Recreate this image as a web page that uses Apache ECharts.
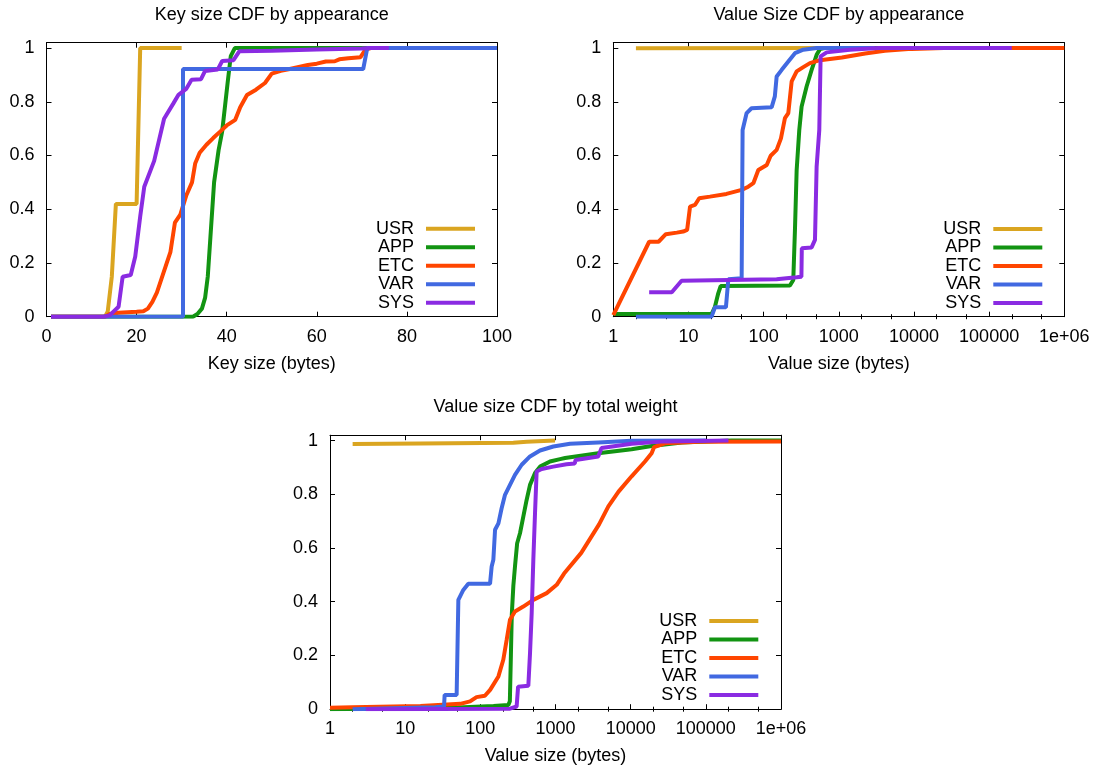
<!DOCTYPE html>
<html><head><meta charset="utf-8">
<script src="https://cdn.jsdelivr.net/npm/echarts@6/dist/echarts.min.js"></script>
<style>html,body{margin:0;padding:0;background:#fff}#c{width:1097px;height:772px}</style>
</head><body><div id="c"></div>
<script>
// ---------------- data ----------------
const seriesNames = ['USR', 'APP', 'ETC', 'VAR', 'SYS'];
const titles = ['Key size CDF by appearance', 'Value Size CDF by appearance', 'Value size CDF by total weight'];
const xNames = ['Key size (bytes)', 'Value size (bytes)', 'Value size (bytes)'];
const yTicks = [0, 0.2, 0.4, 0.6, 0.8, 1];
const logTickLabels = ['1', '10', '100', '1000', '10000', '100000', '1e+06'];
const logMinorTicks = [2, 5, 20, 50, 200, 500, 2000, 5000, 20000, 50000, 200000, 500000];

// Key size CDF by appearance
const keyUSR = [[1,0],[13,0],[13.6,0.02],[14.5,0.15],[15.4,0.42],[20,0.42],[20.8,1],[30,1]];
const keyAPP = [[1,0],[32.5,0],[33.5,0.01],[34.5,0.03],[35.2,0.07],[35.8,0.15],[36.4,0.3],[37.2,0.5],[38.2,0.62],[39,0.69],[40.2,0.87],[40.9,0.97],[41.8,1],[100,1]];
const keyETC = [[1,0],[13,0],[14,0.01],[16,0.015],[20,0.018],[21.5,0.02],[22.5,0.03],[23.5,0.055],[24.5,0.09],[25.5,0.14],[26.5,0.19],[27.5,0.24],[28.5,0.35],[29.7,0.38],[31,0.45],[32.3,0.5],[33,0.57],[34,0.61],[35.5,0.64],[37,0.665],[38.6,0.69],[40,0.712],[41.9,0.733],[43,0.78],[44.5,0.825],[46.5,0.845],[48.5,0.87],[50,0.905],[52,0.915],[54,0.922],[56,0.93],[58,0.937],[60,0.942],[62,0.95],[64,0.951],[65,0.958],[67,0.962],[69.7,0.966],[70.8,0.994],[72,1],[76,1]];
const keyVAR = [[1,0],[30.3,0],[30.3,0.922],[70.3,0.922],[71.2,1],[100,1]];
const keySYS = [[1,0],[12.6,0],[14,0.005],[16,0.037],[16.9,0.149],[18.7,0.155],[19.7,0.224],[20.8,0.373],[21.7,0.484],[23.9,0.58],[26.1,0.737],[28.2,0.795],[29.3,0.826],[31,0.848],[32.2,0.882],[34.3,0.884],[35.2,0.915],[38,0.92],[39,0.952],[41.5,0.955],[42.8,0.988],[50,0.99],[60,0.995],[70,0.998],[72,1],[76,1]];

// Value size CDF by appearance
const vapUSR = [[2,0.999],[1000,1]];
const vapAPP = [[1,0.01],[20.3,0.01],[22.5,0.037],[24.9,0.087],[26.8,0.114],[224,0.116],[248,0.137],[261,0.323],[275,0.546],[298,0.695],[320,0.782],[373,0.857],[435,0.919],[507,0.975],[562,0.996],[650,1],[100000,1]];
const vapETC = [[1,0.006],[3,0.279],[4,0.279],[5,0.307],[7,0.313],[8.5,0.317],[9.6,0.323],[10.5,0.41],[12.2,0.416],[13.9,0.441],[19.3,0.447],[32,0.457],[51,0.472],[62.5,0.484],[73,0.497],[85,0.546],[110,0.565],[124,0.599],[149,0.621],[170,0.664],[192,0.739],[213,0.758],[236,0.876],[275,0.913],[337,0.929],[413,0.944],[562,0.955],[1100,0.965],[2240,0.98],[4100,0.99],[9300,0.997],[25000,1],[1000000,1]];
const vapVAR = [[2,0],[20.3,0],[22.5,0.035],[31.5,0.035],[33.9,0.139],[51,0.143],[52.5,0.695],[59.4,0.758],[69,0.776],[128,0.78],[141,0.82],[149,0.894],[174,0.919],[213,0.95],[261,0.981],[337,0.994],[507,1],[3000,1]];
const vapSYS = [[3,0.091],[6,0.091],[8.1,0.134],[149,0.139],[202,0.143],[275,0.147],[318,0.149],[322,0.255],[435,0.258],[482,0.286],[507,0.559],[550,0.695],[573,0.969],[689,0.984],[1400,0.994],[3400,1],[200000,1]];

// Value size CDF by total weight
const wUSR = [[2,0.987],[16,0.989],[275,0.992],[413,0.996],[985,1]];
const wAPP = [[1,0],[50,0.006],[150,0.012],[236,0.016],[247,0.03],[255,0.2],[262,0.35],[275,0.46],[289,0.531],[309,0.618],[337,0.655],[373,0.717],[413,0.779],[458,0.835],[534,0.879],[622,0.903],[845,0.922],[1150,0.931],[1340,0.935],[3700,0.953],[10300,0.968],[19000,0.98],[48000,0.993],[220000,1],[1000000,1]];
const wETC = [[1,0.005],[2,0.007],[16,0.012],[54,0.02],[73,0.029],[89,0.045],[115,0.05],[135,0.072],[174,0.122],[202,0.184],[224,0.258],[248,0.333],[289,0.364],[373,0.382],[507,0.407],[763,0.432],[1037,0.463],[1300,0.505],[2200,0.582],[3800,0.688],[5050,0.755],[6900,0.81],[10300,0.867],[15500,0.922],[19000,0.953],[20500,0.976],[28600,0.99],[80000,0.996],[1000000,0.997]];
const wVAR = [[2,0],[25,0.007],[32.9,0.01],[33.5,0.053],[48.4,0.053],[51,0.407],[59.4,0.444],[69.2,0.467],[134.6,0.467],[141.5,0.531],[149,0.556],[157,0.668],[174,0.692],[192,0.748],[213,0.798],[248,0.835],[289,0.872],[355,0.91],[458,0.941],[622,0.963],[935,0.978],[1560,0.988],[3700,0.993],[10300,0.999],[100000,1]];
const wSYS = [[3,0],[248,0.002],[304,0.01],[318,0.084],[435,0.087],[458,0.208],[482,0.357],[507,0.556],[534,0.73],[561,0.885],[655,0.894],[935,0.903],[1400,0.912],[1800,0.915],[1850,0.928],[3700,0.941],[4100,0.972],[10300,0.988],[28600,0.997],[200000,1]];

const chartData = [
  [keyUSR, keyAPP, keyETC, keyVAR, keySYS],
  [vapUSR, vapAPP, vapETC, vapVAR, vapSYS],
  [wUSR, wAPP, wETC, wVAR, wSYS]
];

// ---------------- styles ----------------
const colors = ['#DAA520', '#129412', '#FF4500', '#4169E1', '#8A2BE2'];
const FONT = 'Liberation Sans, Arial, Helvetica, sans-serif';
const grids = [
  {left: 46.5, top: 42.7, width: 450.5, height: 274},
  {left: 613.3, top: 42.7, width: 451, height: 274},
  {left: 330, top: 435.2, width: 451, height: 274}
];
const legendPos = [
  {right: 622, top: 219.7},
  {right: 54.7, top: 220},
  {right: 338.7, top: 612}
];
const isLog = [false, true, true];

const txt = {color: '#000', fontSize: 18, fontFamily: FONT};
const black = {color: '#000', width: 1};

const xAxes = [], yAxes = [], series = [], legends = [];
const mainX = [], mainY = [];

grids.forEach((g, gi) => {
  const log = isLog[gi];
  const base = log ? {type: 'log', logBase: 10, min: 1, max: 1000000, splitNumber: 6}
                   : {type: 'value', min: 0, max: 100, interval: 20};
  const fmt = log ? (v => logTickLabels[Math.round(Math.log10(v))]) : (v => String(v));
  mainX.push(xAxes.length);
  xAxes.push(Object.assign({}, base, {
    gridIndex: gi, position: 'bottom',
    axisLine: {show: true, onZero: false, lineStyle: black},
    axisTick: {show: true, inside: true, length: 5, lineStyle: black},
    axisLabel: Object.assign({show: true, margin: 11, formatter: fmt}, txt),
    splitLine: {show: false}, minorTick: {show: false},
    name: xNames[gi], nameLocation: 'middle', nameGap: 38, nameTextStyle: txt
  }));
  xAxes.push(Object.assign({}, base, {
    gridIndex: gi, position: 'top',
    axisLine: {show: true, onZero: false, lineStyle: black},
    axisTick: {show: true, inside: true, length: 5, lineStyle: black},
    axisLabel: {show: false}, splitLine: {show: false},
    name: titles[gi], nameLocation: 'middle', nameGap: 18.7, nameTextStyle: txt
  }));
  if (log) {
    ['bottom', 'top'].forEach(pos => {
      xAxes.push(Object.assign({}, base, {
        gridIndex: gi, position: pos,
        axisLine: {show: false},
        axisTick: {show: true, inside: true, length: 2.5, lineStyle: black, customValues: logMinorTicks},
        axisLabel: {show: false}, splitLine: {show: false}
      }));
    });
  }
  mainY.push(yAxes.length);
  ['left', 'right'].forEach(pos => {
    yAxes.push({
      type: 'value', gridIndex: gi, position: pos, min: 0, max: 1.02,
      axisLine: {show: true, onZero: false, lineStyle: black},
      axisTick: {show: true, inside: true, length: 5, lineStyle: black, customValues: yTicks},
      axisLabel: pos === 'left'
        ? Object.assign({show: true, margin: 12, customValues: yTicks, formatter: v => String(+(+v).toFixed(2))}, txt)
        : {show: false},
      splitLine: {show: false}
    });
  });
  chartData[gi].forEach((d, si) => {
    series.push({
      type: 'line', name: seriesNames[si], data: d,
      xAxisIndex: mainX[gi], yAxisIndex: mainY[gi],
      showSymbol: false, symbol: 'none',
      lineStyle: {width: 4, color: colors[si]},
      itemStyle: {color: colors[si]},
      emphasis: {disabled: true}, silent: true
    });
  });
  legends.push(Object.assign({
    data: seriesNames, orient: 'vertical', align: 'right',
    itemWidth: 49, itemHeight: 4, itemGap: 0.5, icon: 'rect', padding: 0,
    selectedMode: false,
    textStyle: Object.assign({lineHeight: 18, padding: [0, 7, 0, 0]}, txt)
  }, legendPos[gi]));
});

const chart = echarts.init(document.getElementById('c'), null, {renderer: 'canvas'});
chart.setOption({
  animation: false,
  backgroundColor: '#fff',
  grid: grids.map(g => Object.assign({containLabel: false, outerBoundsMode: 'none'}, g)),
  xAxis: xAxes, yAxis: yAxes, legend: legends, series: series
});
</script></body></html>
